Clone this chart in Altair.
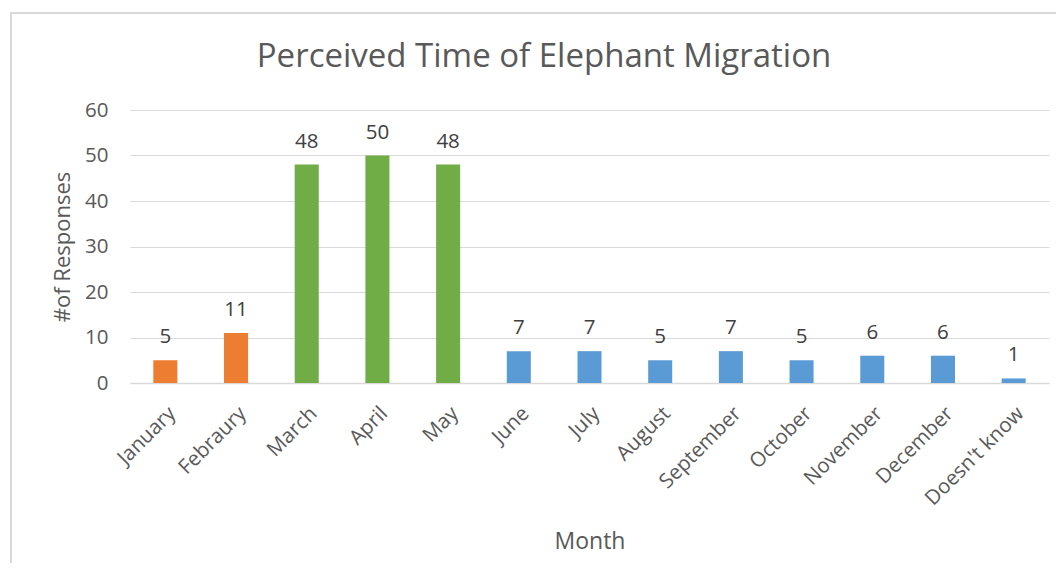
import altair as alt
import pandas as pd

months = ["January", "Febraury", "March", "April", "May", "June", "July",
          "August", "September", "October", "November", "December", "Doesn't know"]
responses = [5, 11, 48, 50, 48, 7, 7, 5, 7, 5, 6, 6, 1]
groups = ["Early", "Early", "Peak", "Peak", "Peak", "Other", "Other",
          "Other", "Other", "Other", "Other", "Other", "Other"]
group_names = ["Early", "Peak", "Other"]
group_colors = ["#ED7D31", "#70AD47", "#5B9BD5"]
y_ticks = [0, 10, 20, 30, 40, 50, 60]
chart_title = "Perceived Time of Elephant Migration"

FONT = "Open Sans"
GRAY = "#595959"
GRID = "#D9D9D9"

df = pd.DataFrame({"Month": months, "Responses": responses, "Group": groups})

x_enc = alt.X(
    "Month:N", sort=months, title="Month",
    scale=alt.Scale(paddingInner=0.66, paddingOuter=0.33),
    axis=alt.Axis(labelAngle=-45, labelFontSize=20.5, labelColor=GRAY, labelFont=FONT,
                  labelPadding=20, labelOverlap=False, ticks=False, tickSize=0,
                  domainColor=GRID, domainWidth=1.5, grid=False,
                  titleFontSize=23, titleColor=GRAY, titleFont=FONT,
                  titleFontWeight="normal", titlePadding=21),
)
y_enc = alt.Y(
    "Responses:Q", title="#of Responses",
    scale=alt.Scale(domain=[0, 60], nice=False),
    axis=alt.Axis(values=y_ticks, labelFontSize=20.5, labelColor=GRAY, labelFont=FONT,
                  labelPadding=22, ticks=False, tickSize=0, domain=False,
                  gridColor=GRID, gridWidth=1,
                  titleFontSize=22, titleColor=GRAY, titleFont=FONT,
                  titleFontWeight="normal", titlePadding=10),
)

base = alt.Chart(df)
bars = base.mark_bar().encode(
    x=x_enc, y=y_enc,
    color=alt.Color("Group:N", scale=alt.Scale(domain=group_names, range=group_colors), legend=None),
)
labels = base.mark_text(baseline="alphabetic", dy=-17, fontSize=20.5, color="#404040", font=FONT).encode(
    x=alt.X("Month:N", sort=months), y="Responses:Q", text="Responses:Q"
)

frame = alt.Chart(pd.DataFrame({"a": [0]})).mark_rect(
    filled=False, stroke=GRID, strokeWidth=2
).encode(x=alt.value(-119), x2=alt.value(1100), y=alt.value(-97), y2=alt.value(700))

title_text = alt.Chart(pd.DataFrame({"t": [chart_title]})).mark_text(
    fontSize=33, color=GRAY, font=FONT, baseline="middle", align="center"
).encode(text="t:N", x=alt.value(414), y=alt.value(-53))

chart = alt.layer(frame, bars, labels, title_text).properties(
    width=919, height=273, autosize="none",
    padding={"left": 122, "top": 102, "right": 7, "bottom": 180},
    view=alt.ViewBackground(stroke="transparent", strokeWidth=0, strokeOpacity=0),
).configure(font=FONT).configure_view(stroke="transparent", strokeWidth=0, strokeOpacity=0)

chart.save("out.html", embed_options={"renderer": "svg", "actions": False})
